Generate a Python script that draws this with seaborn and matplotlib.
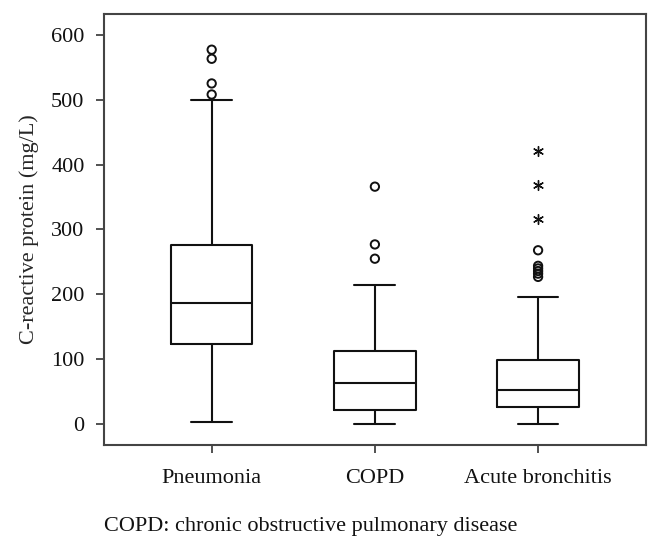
import numpy as np
import pandas as pd
import seaborn as sns
import matplotlib
matplotlib.use("Agg")
import matplotlib.pyplot as plt

# ---- data ----
categories = ["Pneumonia", "COPD", "Acute bronchitis"]
whisker_low = [3, 1, 1]
q1 = [123, 22, 26]
median = [186, 63, 53]
q3 = [276, 113, 99]
whisker_high = [500, 215, 196]

outlier_cat = ["Pneumonia"] * 4 + ["COPD"] * 3 + ["Acute bronchitis"] * 6
outlier_val = [577, 563, 525, 508, 366, 277, 255, 268, 244, 240, 236, 232, 227]

extreme_cat = ["Acute bronchitis"] * 3
extreme_val = [421, 369, 316]

yticks = [0, 100, 200, 300, 400, 500, 600]
ylabel = "C-reactive protein (mg/L)"
footnote = "COPD: chronic obstructive pulmonary disease"

# ---- build table: 5 stats per group -> exact quartiles with whis=(0,100) ----
rows = []
for c, lo, a, m, b, hi in zip(categories, whisker_low, q1, median, q3, whisker_high):
    for v in (lo, a, m, b, hi):
        rows.append({"group": c, "crp": v})
box_df = pd.DataFrame(rows)
out_df = pd.DataFrame({"group": outlier_cat, "crp": outlier_val})
ext_df = pd.DataFrame({"group": extreme_cat, "crp": extreme_val})

sns.set_theme(style="ticks")
plt.rcParams["font.family"] = ["Liberation Serif", "DejaVu Serif"]

fig = plt.figure(figsize=(6.61, 5.53), dpi=100)
ax = fig.add_axes([0.1573, 0.1953, 0.977 - 0.1573, 0.9747 - 0.1953])

sns.boxplot(data=box_df, x="group", y="crp", order=categories, whis=(0, 100),
            width=0.5, fill=False, color="#111111", linewidth=1.5,
            showfliers=False, ax=ax, linecolor="#111111")

sns.scatterplot(data=out_df, x="group", y="crp", ax=ax, marker="o", s=36,
                facecolor="none", edgecolor="#111111", linewidth=1.4, zorder=5)
sns.scatterplot(data=ext_df, x="group", y="crp", ax=ax, marker=(6, 2, 0), s=50,
                color="#111111", linewidth=1.0, zorder=5)

ax.set_xlim(-0.66, 2.66)
ax.set_ylim(-32, 632)
ax.set_yticks(yticks)
ax.set_xlabel("")
ax.set_ylabel(ylabel, fontsize=16, labelpad=9)
ax.tick_params(axis="both", labelsize=16, direction="out", length=6, width=1.2,
               color="#333333", labelcolor="#111111")
ax.tick_params(axis="y", pad=8)
ax.tick_params(axis="x", pad=11)
for s in ax.spines.values():
    s.set_visible(True)
    s.set_color("#444444")
    s.set_linewidth(1.5)

fig.text(104 / 661, 1 - 527 / 553, footnote, fontsize=16, color="#111111",
         ha="left", va="center")

fig.savefig("out.png", dpi=100, facecolor="white")
